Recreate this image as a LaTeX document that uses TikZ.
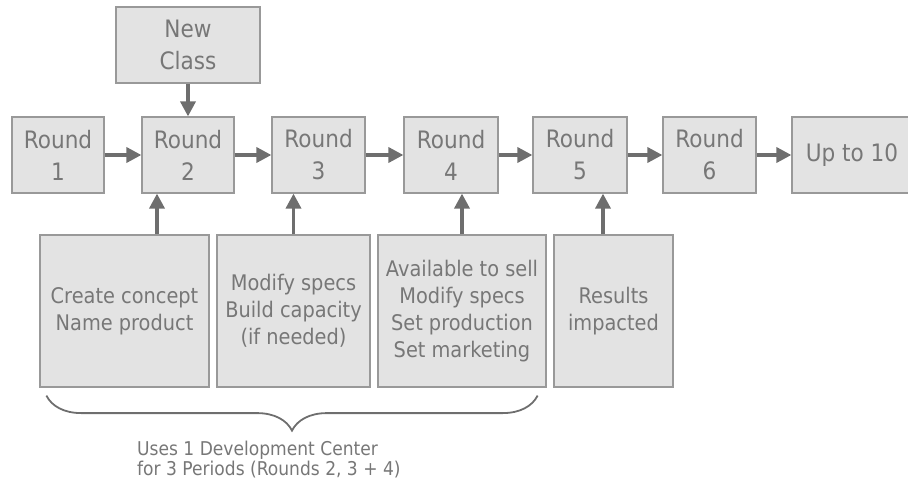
\documentclass[tikz,border=0pt]{standalone}
\usepackage{fontspec}
\setmainfont[FakeStretch=0.9]{DejaVu Sans}
\usetikzlibrary{arrows.meta,decorations.pathreplacing}

\definecolor{boxfill}{HTML}{E3E3E3}
\definecolor{boxline}{HTML}{999999}
\definecolor{arrowgray}{HTML}{6E6E6E}
\definecolor{textgray}{HTML}{777777}

\begin{document}
\begin{tikzpicture}[x=1pt,y=-1pt,
  every node/.style={align=center,text=textgray,inner sep=0pt},
  round/.style={draw=boxline,fill=boxfill,line width=1.2pt,
    minimum width=93pt,minimum height=76pt,
    font=\fontsize{24}{32}\selectfont},
  task/.style={round,minimum height=152pt,
    font=\fontsize{21.5}{27}\selectfont},
  flow/.style={-{Triangle[length=15pt,width=15pt]},line width=3.5pt,
    draw=arrowgray},
  span/.style={decorate,decoration={brace,mirror,amplitude=35pt},
    line width=1.8pt,draw=arrowgray},
  note/.style={align=left,font=\fontsize{19}{20}\selectfont}]
  \useasboundingbox (0,0) rectangle (908,482);

  % the row of rounds
  \node[round,minimum width=92pt] (r1) at (58,155) {Round\\1};
  \node[round,minimum width=92pt] (r2) at (188,155) {Round\\2};
  \node[round] (r3) at (318.5,155) {Round\\3};
  \node[round,minimum width=94pt] (r4) at (451,155) {Round\\4};
  \node[round,minimum width=94pt] (r5) at (580,155) {Round\\5};
  \node[round] (r6) at (709.5,155) {Round\\6};
  \node[round,minimum width=120pt] (more) at (852,155) {Up to 10};
  \node[round,minimum width=144pt] (newclass) at (188,45) {New\\Class};

  % what happens in each round
  \node[task,minimum width=169pt] (concept) at (124.5,311)
    {Create concept\\Name product};
  \node[task,minimum width=153pt] (specs) at (293.5,311)
    {Modify specs\\Build capacity\\(if needed)};
  \node[task,minimum width=168pt] (market) at (462,311)
    {Available to sell\\Modify specs\\Set production\\Set marketing};
  \node[task,minimum width=119pt] (results) at (613.5,311)
    {Results\\impacted};

  \draw[flow] (r1) -- (r2);
  \draw[flow] (r2) -- (r3);
  \draw[flow] (r3) -- (r4);
  \draw[flow] (r4) -- (r5);
  \draw[flow] (r5) -- (r6);
  \draw[flow] (r6) -- (more);
  \draw[flow] (newclass) -- (r2);

  \coordinate (c1) at ([xshift=32.5pt]concept.north);
  \coordinate (c4) at ([xshift=-10.5pt]results.north);
  \draw[flow] (c1) -- (c1 |- r2.south);
  \draw[flow] (specs.north) -- (specs.north |- r3.south);
  \draw[flow] (market.north) -- (market.north |- r4.south);
  \draw[flow] (c4) -- (c4 |- r5.south);

  % development center period
  \draw[span] ([shift={(7,8)}]concept.south west)
    -- ([shift={(-9,8)}]market.south east);
  \node[note,anchor=north west] (usage) at (137,441)
    {Uses 1 Development Center\\for 3 Periods (Rounds 2, 3 + 4)};
\end{tikzpicture}
\end{document}
